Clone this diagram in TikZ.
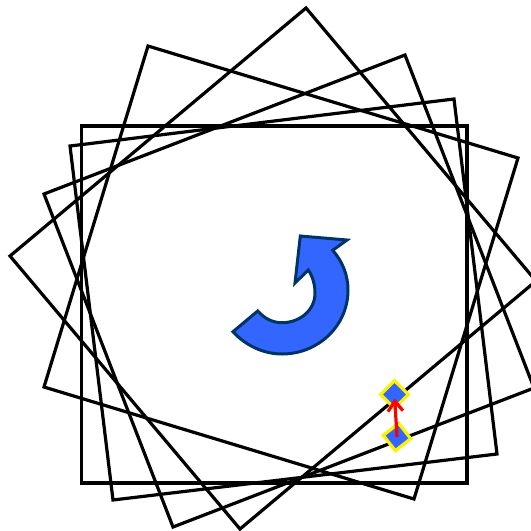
\documentclass[tikz,border=0pt]{standalone}
\usepackage{xcolor}
\usetikzlibrary{shapes.geometric,arrows.meta}
\definecolor{fillblue}{HTML}{3366FF}
\definecolor{edgeblue}{HTML}{003366}

\begin{document}
\begin{tikzpicture}[
  x=1pt, y=-1pt,
  frame/.style={draw=black, line width=3.2pt},
  turn/.style={draw=edgeblue, fill=fillblue, line width=3pt},
  handle/.style={diamond, draw=yellow, fill=fillblue, line width=3.2pt, aspect=1, inner sep=0pt, minimum size=29pt},
  push/.style={draw=red, line width=3.2pt, -{Straight Barb[length=10pt,width=15pt]}, shorten >=4pt}]
  \useasboundingbox (0,0) rectangle (531,531);
  % the rectangle in its successive positions
  \draw[frame] (81.5,126) -- (467,126) -- (467,483) -- (81.5,483) -- cycle;
  \draw[frame] (70,146) -- (454,99) -- (497,454) -- (113,500) -- cycle;
  \draw[frame] (44,194) -- (405,55) -- (534,388) -- (173,527) -- cycle;
  \draw[frame] (10,256) -- (306,8) -- (536,281) -- (240,529) -- cycle;
  \draw[frame] (148,46) -- (518,158) -- (414,499) -- (44,387) -- cycle;
  % rotation sign
  \draw[turn] (300.3,236) -- (347,240) -- (332.7,250.3)
    .. controls (343,262) and (348,276) .. (348,290)
    .. controls (348,326) and (318,354) .. (282,354)
    .. controls (263,354) and (245,345) .. (233,331.7)
    -- (257.7,311)
    .. controls (264,318) and (272,322.7) .. (282,322.7)
    .. controls (300,322.7) and (315,310) .. (315,293.3)
    .. controls (315,285) and (313,277) .. (308.3,270)
    -- (295,283) -- cycle;
  \node[handle] (top) at (394.5,394.5) {};
  \node[handle, rotate=-7] (low) at (397,437) {};
  \draw[push] (low.center) -- (top.center);
\end{tikzpicture}
\end{document}
